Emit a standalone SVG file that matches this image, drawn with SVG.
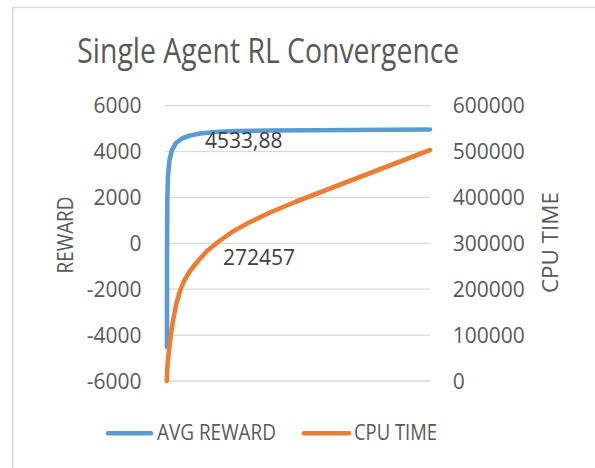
<svg xmlns="http://www.w3.org/2000/svg" width="595" height="468" viewBox="0 0 595 468">
<style>
  .grid { stroke: #D9D9D9; stroke-width: 1.3; fill: none; }
  .tick { font-family: "Open Sans", "Liberation Sans", sans-serif; font-size: 21px; fill: #595959; }
  .dl { font-family: "Open Sans", "Liberation Sans", sans-serif; font-size: 21px; fill: #404040; }
  .ttl { font-family: "Open Sans", "Liberation Sans", sans-serif; fill: #595959; }
  .series { fill: none; stroke-width: 4.6; stroke-linecap: round; stroke-linejoin: round; }
  .blue { stroke: #5B9BD5; }
  .orange { stroke: #ED7D31; }
</style>
<rect width="595" height="468" fill="#FFFFFF"/>
<g id="frame">
  <line x1="12" y1="7.5" x2="595" y2="7.5" stroke="#D9D9D9" stroke-width="1.5"/>
  <line x1="12.7" y1="7" x2="12.7" y2="468" stroke="#D9D9D9" stroke-width="1.5"/>
</g>
<g id="title">
  <text class="ttl" x="268.3" y="63.3" font-size="34" text-anchor="middle" textLength="382" lengthAdjust="spacingAndGlyphs">Single Agent RL Convergence</text>
</g>
<g id="gridlines">
  <line class="grid" x1="165" y1="105.7" x2="430" y2="105.7"/>
  <line class="grid" x1="165" y1="151.6" x2="430" y2="151.6"/>
  <line class="grid" x1="165" y1="197.5" x2="430" y2="197.5"/>
  <line class="grid" x1="165" y1="243.3" x2="430" y2="243.3"/>
  <line class="grid" x1="165" y1="289.2" x2="430" y2="289.2"/>
  <line class="grid" x1="165" y1="335.1" x2="430" y2="335.1"/>
  <line class="grid" x1="165" y1="381" x2="430" y2="381"/>
</g>
<g id="left-axis" text-anchor="end">
  <text class="tick" x="141.5" y="113.2">6000</text>
  <text class="tick" x="141.5" y="159.1">4000</text>
  <text class="tick" x="141.5" y="205">2000</text>
  <text class="tick" x="141.5" y="250.8">0</text>
  <text class="tick" x="141.5" y="296.7">-2000</text>
  <text class="tick" x="141.5" y="342.6">-4000</text>
  <text class="tick" x="141.5" y="388.5">-6000</text>
  <text class="tick" transform="translate(73.3,235) rotate(-90)" font-size="22" text-anchor="middle" textLength="77" lengthAdjust="spacingAndGlyphs">REWARD</text>
</g>
<g id="right-axis">
  <text class="tick" x="452.7" y="113.2">600000</text>
  <text class="tick" x="452.7" y="159.1">500000</text>
  <text class="tick" x="452.7" y="205">400000</text>
  <text class="tick" x="452.7" y="250.8">300000</text>
  <text class="tick" x="452.7" y="296.7">200000</text>
  <text class="tick" x="452.7" y="342.6">100000</text>
  <text class="tick" x="452.7" y="388.5">0</text>
  <text class="tick" transform="translate(558,242.5) rotate(-90)" font-size="22" text-anchor="middle" textLength="101" lengthAdjust="spacingAndGlyphs">CPU TIME</text>
</g>
<g id="connectors">
  <polyline id="avg-reward" class="series blue" points="167,347 167,260 167.3,200 168,175 169.5,160 172,150 176,143 182,138.5 190,135.5 200,133.5 215,132 235,131 270,130.5 350,130 430,129.5"/>
  <polyline id="cpu-time" class="series orange" points="166.7,381 167.5,365 169,350 171,334 173.5,318 176.5,303 180,291 184,281 190,271 198,261 207,251 218,242 232,232 248,223 270,212.5 295,202 430,150"/>
</g>
<g id="data-labels">
  <text class="dl" x="205" y="148.3">4533,88</text>
  <text class="dl" x="223" y="265">272457</text>
</g>
<g id="legend">
  <line class="series blue" x1="108" y1="433.3" x2="151" y2="433.3"/>
  <text class="tick" x="157" y="440" textLength="119" lengthAdjust="spacingAndGlyphs">AVG REWARD</text>
  <line class="series orange" x1="304" y1="433.3" x2="349" y2="433.3"/>
  <text class="tick" x="354" y="440" textLength="83" lengthAdjust="spacingAndGlyphs">CPU TIME</text>
</g>
</svg>
